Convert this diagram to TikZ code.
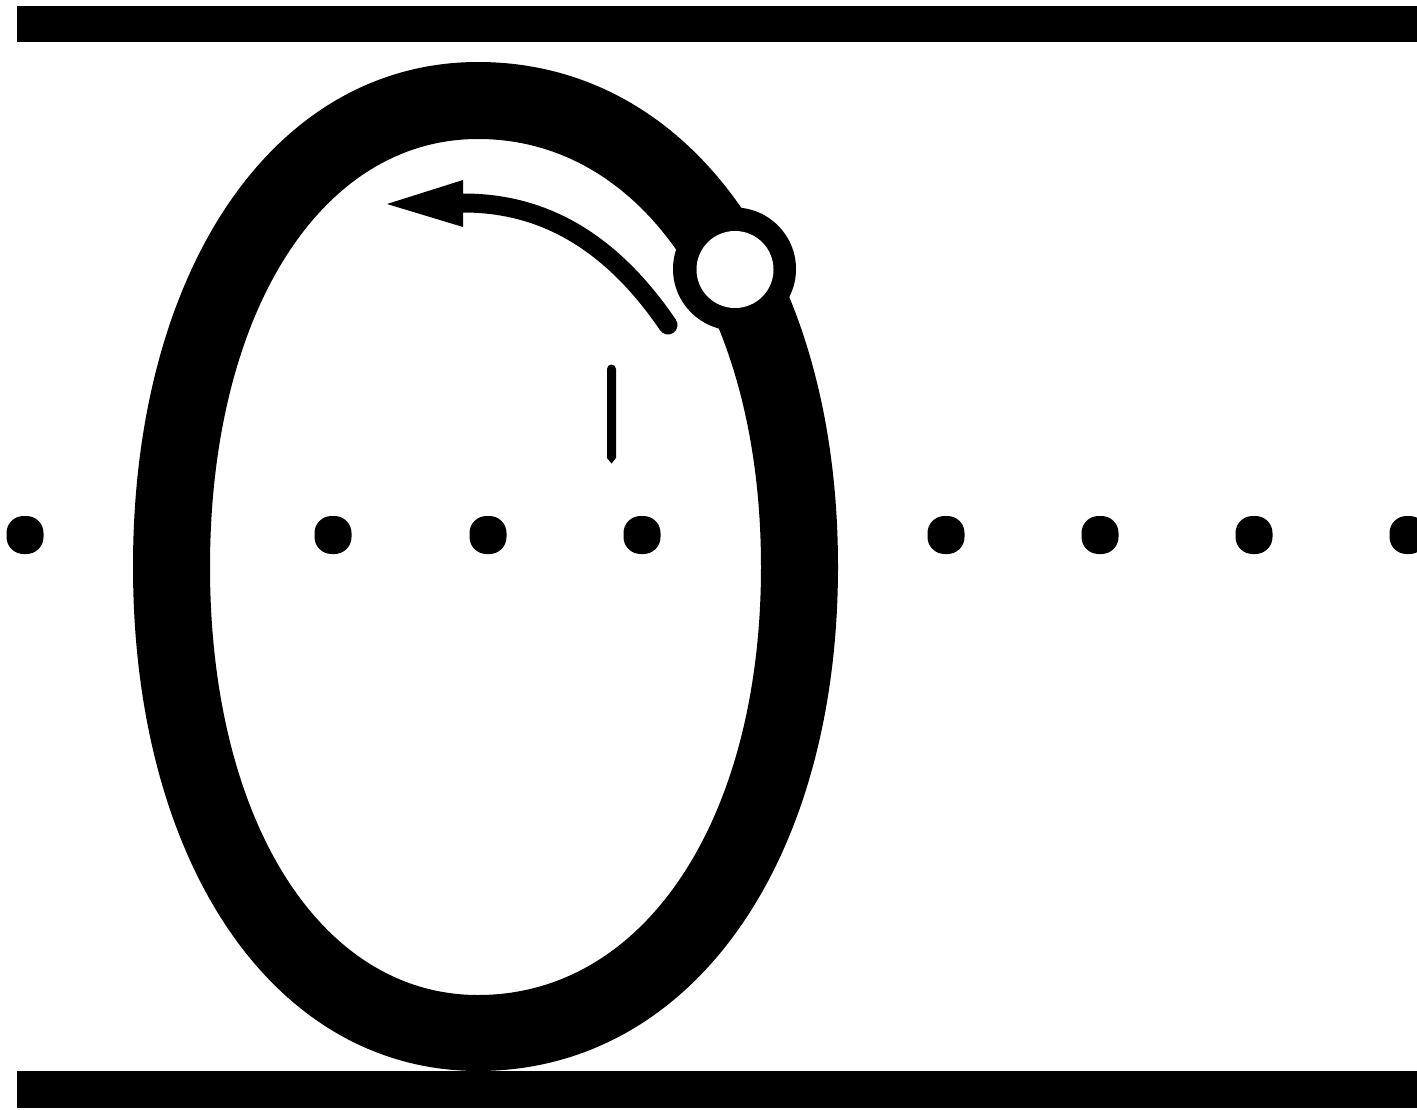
\documentclass[tikz,border=0pt]{standalone}
\begin{document}
\begin{tikzpicture}[x=1pt,y=-1pt,
  bar/.style={fill=black},
  dot/.style={fill=black,rounded corners=17pt},
  curvearrow/.style={draw=black,line width=19pt,line cap=round}]
\useasboundingbox (0,0) rectangle (1417,1110);
% bars
\fill[bar] (17,6) rectangle (1417,42);
\fill[bar] (17,1071) rectangle (1417,1108);
% dots
\foreach \x in {25,333,488,642,946,1100,1254,1408}
  \fill[dot] (\x-18.5,516) rectangle (\x+18.5,554);
% ring as superellipse-like shape
\def\k{0.59}
\newcommand\ovalpath[5]{% left right cy halfheight topx
  (#1,#3) .. controls (#1,#3-\k*#4) and (#5-\k*#5+\k*#1,#3-#4) .. (#5,#3-#4)
  .. controls (#5+\k*#2-\k*#5,#3-#4) and (#2,#3-\k*#4) .. (#2,#3)
  .. controls (#2,#3+\k*#4) and (#5+\k*#2-\k*#5,#3+#4) .. (#5,#3+#4)
  .. controls (#5-\k*#5+\k*#1,#3+#4) and (#1,#3+\k*#4) .. (#1,#3) -- cycle}
\fill[black,even odd rule] \ovalpath{133}{838}{566.5}{504.5}{478} \ovalpath{210}{761}{567}{428}{478};
% small circle on ring
\fill[black] (734.5,269) circle [radius=61.5];
\fill[white] (735,269.5) circle [radius=38.5];
% curved arrow
\coordinate (astart) at (668,325);
\coordinate (aend) at (463,203);
\draw[curvearrow] (astart) .. controls (600,225) and (525,203) .. (aend);
\fill[black] (387,204) -- (463,180) -- (463,227) -- cycle;
% small vertical mark
\fill[black] (607,369) arc[start angle=180,end angle=360,radius=4.5] -- (616,458) -- (611.5,463.5) -- (607,458) -- cycle;
\end{tikzpicture}
\end{document}
